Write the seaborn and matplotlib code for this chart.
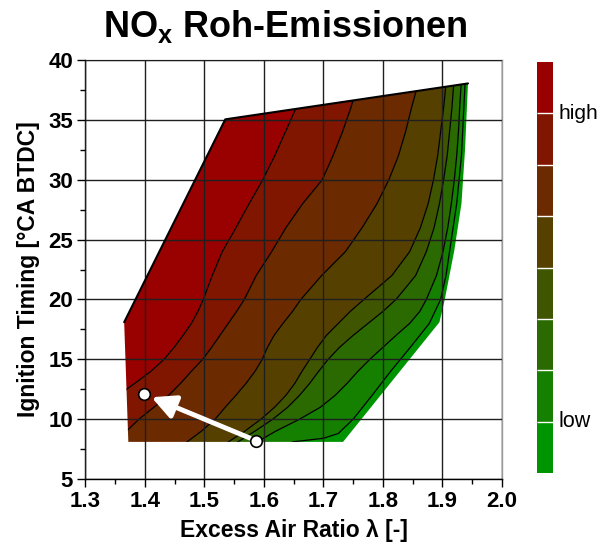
import numpy as np
import matplotlib
matplotlib.use("Agg")
import matplotlib.pyplot as plt
import seaborn as sns
from matplotlib.patches import Polygon
from matplotlib.colors import ListedColormap, BoundaryNorm
import matplotlib as mpl

sns.set_theme(style="ticks")
plt.rcParams["font.family"] = ["Liberation Sans", "DejaVu Sans"]
plt.rcParams["mathtext.fontset"] = "custom"
plt.rcParams["mathtext.bf"] = "Liberation Sans:bold"
plt.rcParams["mathtext.rm"] = "Liberation Sans"
for key in ["text.color", "axes.labelcolor", "xtick.color", "ytick.color"]:
    plt.rcParams[key] = "black"

# measured operating range (lambda, ignition timing)
region_x = [1.372, 1.733, 1.895, 1.904, 1.920, 1.932, 1.938, 1.943, 1.535, 1.365]
region_y = [8.1, 8.1, 18.1, 20.0, 24.1, 28.0, 32.5, 38.05, 35.05, 18.1]

# iso-NOx lines (high -> low)
l1_y = [6, 12.5, 13, 14, 15, 16, 17, 18, 19, 20, 22, 24, 26, 28, 30, 32, 34, 36, 40]
l1_x = [1.25, 1.369, 1.383, 1.41, 1.432, 1.449, 1.464, 1.478, 1.489, 1.498, 1.513,
        1.53, 1.553, 1.575, 1.598, 1.618, 1.636, 1.654, 1.69]
l2_y = [6, 9, 10, 11, 12, 13, 14, 15, 16, 17, 18, 19, 20, 22, 24, 26, 28, 30, 32, 34, 36, 40]
l2_x = [1.30, 1.369, 1.39, 1.415, 1.44, 1.46, 1.478, 1.497, 1.512, 1.526, 1.54, 1.554,
        1.567, 1.587, 1.613, 1.637, 1.665, 1.698, 1.716, 1.732, 1.746, 1.77]
lo_y = [6, 8, 9, 10, 11, 12, 13, 14, 15, 16, 17, 18, 19, 20, 22, 24, 26, 28, 30, 32, 34, 36, 40]
l3_x = [1.44, 1.468, 1.495, 1.518, 1.535, 1.553, 1.57, 1.585, 1.597, 1.606, 1.617, 1.632,
        1.648, 1.662, 1.697, 1.737, 1.765, 1.79, 1.81, 1.826, 1.838, 1.848, 1.87]
l4_x = [1.51, 1.537, 1.568, 1.595, 1.618, 1.637, 1.652, 1.664, 1.677, 1.69, 1.705, 1.725,
        1.745, 1.768, 1.815, 1.845, 1.863, 1.876, 1.885, 1.892, 1.897, 1.902, 1.91]
l5_x = [1.53, 1.553, 1.585, 1.615, 1.64, 1.66, 1.677, 1.692, 1.708, 1.727, 1.75, 1.775,
        1.80, 1.822, 1.855, 1.873, 1.886, 1.895, 1.902, 1.908, 1.912, 1.916, 1.922]
l6_x = [1.56, 1.585, 1.62, 1.66, 1.695, 1.72, 1.74, 1.758, 1.778, 1.80, 1.822, 1.845,
        1.862, 1.873, 1.89, 1.901, 1.909, 1.915, 1.92, 1.924, 1.927, 1.929, 1.934]
l7_y = [6, 8.1, 8.4, 8.8, 10, 12, 14, 16, 18, 20, 22, 24, 26, 28, 30, 32, 34, 36, 40]
l7_x = [1.60, 1.648, 1.70, 1.725, 1.75, 1.782, 1.813, 1.846, 1.878, 1.897, 1.906, 1.912,
        1.918, 1.924, 1.928, 1.932, 1.934, 1.936, 1.94]

level_colors = ["#990000", "#801500", "#6b2a00", "#564000",
                "#405500", "#2b6a00", "#157f00", "#009500"]

# operating point shift (start -> end)
arrow_start = (1.587, 8.2)
arrow_end = (1.398, 12.1)

lines = [(l1_x, l1_y), (l2_x, l2_y), (l3_x, lo_y), (l4_x, lo_y),
         (l5_x, lo_y), (l6_x, lo_y), (l7_x, l7_y)]

fig = plt.figure(figsize=(6, 5.44), dpi=100)
ax = fig.add_axes([0.1425, 0.1195, 0.694, 0.770])
cax = fig.add_axes([0.895, 0.1305, 0.0267, 0.7555])

region = Polygon(np.column_stack([region_x, region_y]), closed=True,
                 transform=ax.transData, facecolor="none", edgecolor="none")
ax.add_patch(region)

# filled bands between iso lines, clipped to the measured region
edges = [([1.2, 1.2], [5, 40])] + lines + [([2.1, 2.1], [5, 40])]
for i, color in enumerate(level_colors):
    lx, ly = edges[i]
    rx, ry = edges[i + 1]
    px = list(lx) + list(rx)[::-1]
    py = list(ly) + list(ry)[::-1]
    patch = ax.fill(px, py, color=color, lw=0, zorder=1)[0]
    patch.set_clip_path(region)

for lx, ly in lines:
    sns.lineplot(x=lx, y=ly, sort=False, estimator=None, color="black",
                 lw=0.9, ax=ax, zorder=2)
    ax.lines[-1].set_clip_path(region)

# outline on the upper-left border
ax.plot([region_x[9], region_x[8], region_x[7]],
        [region_y[9], region_y[8], region_y[7]], color="black", lw=1.5, zorder=3)

ax.set_xlim(1.3, 2.0)
ax.set_ylim(5, 40)
ax.set_xticks(np.arange(1.3, 2.01, 0.1))
ax.set_xticklabels([f"{v:.1f}" for v in np.arange(1.3, 2.01, 0.1)])
ax.set_yticks(np.arange(5, 41, 5))
ax.set_xticks(np.arange(1.35, 2.0, 0.1), minor=True)
ax.set_yticks(np.arange(7.5, 40, 5), minor=True)
ax.set_axisbelow(False)
ax.grid(True, which="major", color="0.12", lw=1.0, zorder=2.5)
ax.tick_params(which="major", direction="out", length=6, width=1, labelsize=16,
               color="black", pad=3)
ax.tick_params(which="minor", direction="out", length=3.5, width=1, color="black")
for lab in ax.get_xticklabels() + ax.get_yticklabels():
    lab.set_fontweight("bold")
for side in ["left", "bottom"]:
    ax.spines[side].set_color("black")
    ax.spines[side].set_linewidth(1.0)
for side in ["top", "right"]:
    ax.spines[side].set_color("0.6")
    ax.spines[side].set_linewidth(1.0)

ax.annotate("", xy=arrow_end, xytext=arrow_start,
            arrowprops=dict(arrowstyle="-|>,head_length=1.1,head_width=0.55",
                            color="white", lw=3.5, shrinkA=5, shrinkB=6,
                            mutation_scale=13),
            zorder=5)
sns.scatterplot(x=[arrow_start[0], arrow_end[0]], y=[arrow_start[1], arrow_end[1]],
                s=70, color="white", edgecolor="black", linewidth=1.2, ax=ax,
                zorder=6)

ax.set_xlabel("Excess Air Ratio λ [-]", fontsize=16.5, fontweight="bold", labelpad=5)
ax.set_ylabel("Ignition Timing [°CA BTDC]", fontsize=16.5, fontweight="bold", labelpad=6)
fig.text(0.475, 0.952, r"NO$_\mathbf{x}$ Roh-Emissionen", ha="center", va="center",
         fontsize=26, fontweight="bold")

# discrete colour scale
cmap = ListedColormap(level_colors[::-1])
norm = BoundaryNorm(np.arange(0, 9), cmap.N)
cb = mpl.colorbar.ColorbarBase(cax, cmap=cmap, norm=norm, drawedges=True)
cb.dividers.set_color("white")
cb.dividers.set_linewidth(1.0)
cb.outline.set_visible(False)
cb.set_ticks([])
cax.minorticks_off()
cax.tick_params(which="both", length=0, labelright=False, labelleft=False)
cax.text(1.35, 7, "high", transform=cax.get_yaxis_transform(), va="center",
         ha="left", fontsize=15)
cax.text(1.35, 1, "low", transform=cax.get_yaxis_transform(), va="center",
         ha="left", fontsize=15.5)

fig.savefig("out.png", dpi=100)
